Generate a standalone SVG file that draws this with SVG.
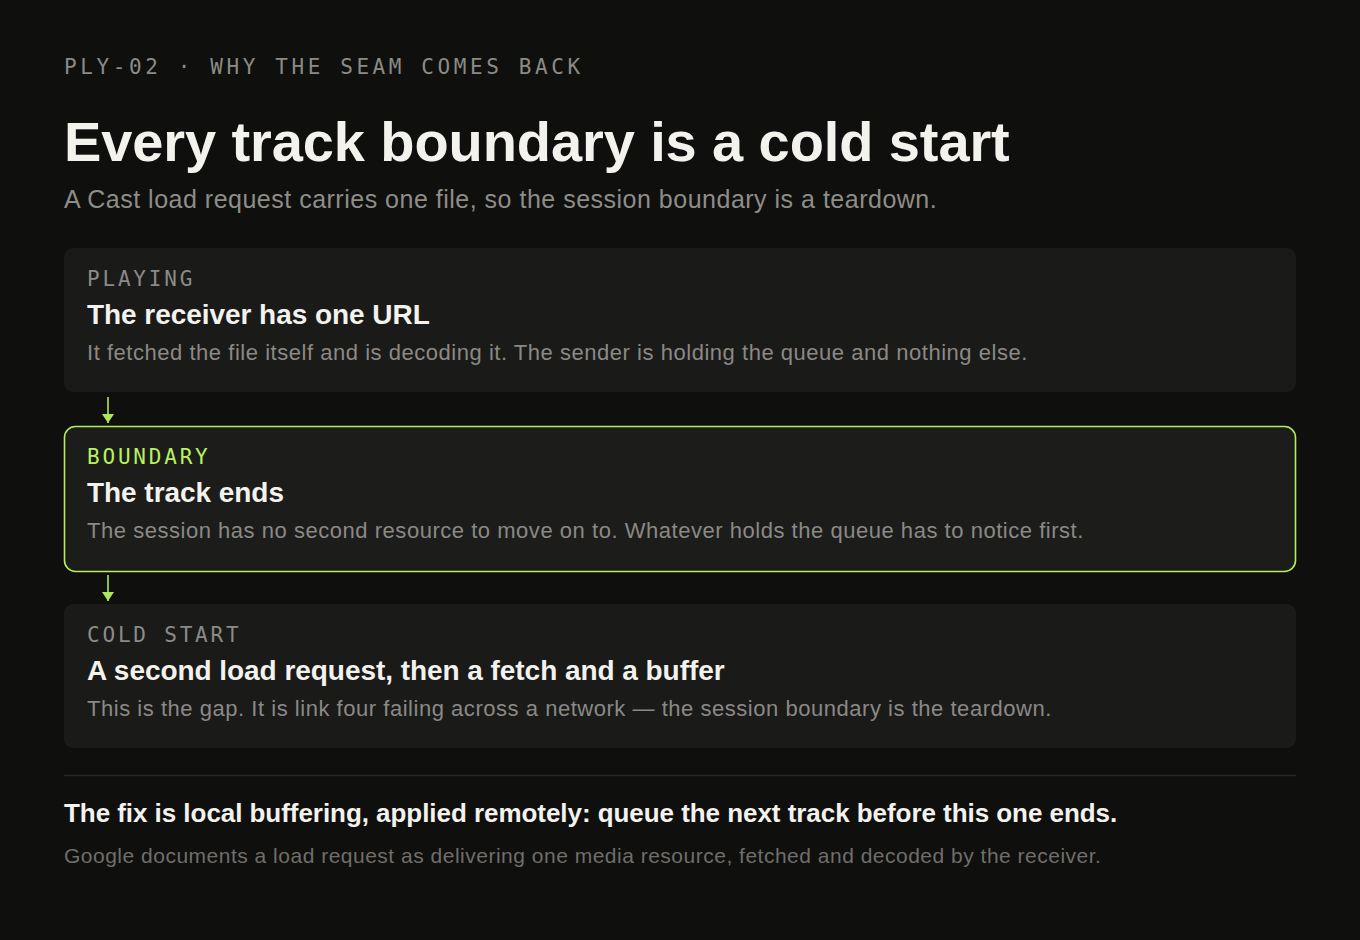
<svg xmlns="http://www.w3.org/2000/svg" width="1360" height="940" viewBox="0 0 1360 940">
  <defs>
    <style>
      .mono { font-family: "DejaVu Sans Mono", "Liberation Mono", monospace; font-size: 21px; letter-spacing: 2.8px; }
      .eyebrow { fill: #8b8b86; letter-spacing: 3.6px; }
      .sans { font-family: "Liberation Sans", Arial, sans-serif; }
      .h1 { font-size: 56px; font-weight: 700; fill: #f3f2ed; letter-spacing: -0.1px; }
      .sub { font-size: 25px; fill: #8e8d88; letter-spacing: 0.5px; }
      .card { fill: #1a1a19; }
      .card-hl { fill: #1c1c1b; stroke: #b4ef5b; stroke-width: 1.6; }
      .lbl { fill: #8b8b86; }
      .lbl-hl { fill: #b8f25e; }
      .ttl { font-size: 28px; font-weight: 700; fill: #f3f2ed; letter-spacing: -0.05px; }
      .desc { font-size: 22px; fill: #8a8985; letter-spacing: 0.53px; }
      .foot { font-size: 26px; font-weight: 700; fill: #f3f2ed; letter-spacing: -0.05px; }
      .note { font-size: 21px; fill: #6f6e6a; letter-spacing: 0.5px; }
      .conn { stroke: #aee85a; stroke-width: 1.6; fill: none; }
    </style>
    <marker id="arr" viewBox="0 0 9 12" refX="9" refY="6" markerWidth="9" markerHeight="12" markerUnits="userSpaceOnUse" orient="auto">
      <path d="M0,0 L9,6 L0,12 Z" fill="#aee85a"/>
    </marker>
  </defs>
  <rect width="1360" height="940" fill="#0f0f0e"/>

  <g id="header">
    <text class="mono eyebrow" x="64" y="74">PLY-02 · WHY THE SEAM COMES BACK</text>
    <text class="sans h1" x="64" y="161">Every track boundary is a cold start</text>
    <text class="sans sub" x="64" y="208">A Cast load request carries one file, so the session boundary is a teardown.</text>
  </g>

  <g id="node-playing">
    <rect class="card" x="64" y="248" width="1232" height="144" rx="9"/>
    <text class="mono lbl" x="87" y="286">PLAYING</text>
    <text class="sans ttl" x="87" y="324">The receiver has one URL</text>
    <text class="sans desc" x="87" y="360">It fetched the file itself and is decoding it. The sender is holding the queue and nothing else.</text>
  </g>

  <g id="node-boundary">
    <rect class="card-hl" x="64.5" y="426.5" width="1231" height="145" rx="11"/>
    <text class="mono lbl-hl" x="87" y="464">BOUNDARY</text>
    <text class="sans ttl" x="87" y="502">The track ends</text>
    <text class="sans desc" x="87" y="538">The session has no second resource to move on to. Whatever holds the queue has to notice first.</text>
  </g>

  <g id="node-cold-start">
    <rect class="card" x="64" y="604" width="1232" height="144" rx="9"/>
    <text class="mono lbl" x="87" y="642">COLD START</text>
    <text class="sans ttl" x="87" y="680">A second load request, then a fetch and a buffer</text>
    <text class="sans desc" x="87" y="716">This is the gap. It is link four failing across a network — the session boundary is the teardown.</text>
  </g>

  <g id="connectors">
    <line class="conn" x1="108" y1="397" x2="108" y2="423" marker-end="url(#arr)"/>
    <line class="conn" x1="108" y1="575" x2="108" y2="601" marker-end="url(#arr)"/>
  </g>

  <g id="footer">
    <line x1="64" y1="775.5" x2="1296" y2="775.5" stroke="#272725" stroke-width="1.5"/>
    <text class="sans foot" x="64" y="822">The fix is local buffering, applied remotely: queue the next track before this one ends.</text>
    <text class="sans note" x="64" y="863">Google documents a load request as delivering one media resource, fetched and decoded by the receiver.</text>
  </g>
</svg>
